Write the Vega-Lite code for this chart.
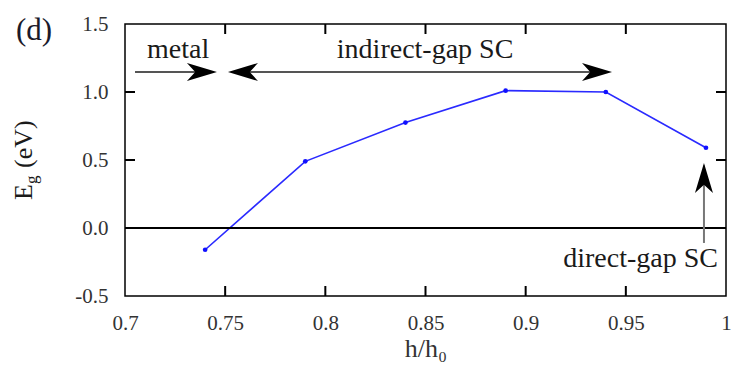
{
  "$schema": "https://vega.github.io/schema/vega-lite/v6.json",
  "width": 601,
  "height": 272,
  "autosize": "none",
  "padding": {"left": 125, "top": 24, "right": 6, "bottom": 74},
  "background": "white",
  "config": {
    "view": {"stroke": "black", "strokeWidth": 1.5},
    "font": "Liberation Serif",
    "axis": {
      "grid": false,
      "domain": false,
      "ticks": false,
      "labelFont": "Liberation Serif",
      "labelFontSize": 21,
      "labelColor": "#333333",
      "titleFont": "Liberation Serif",
      "titleFontWeight": "normal",
      "titleColor": "#333333"
    }
  },
  "datasets": {
    "gap": [
      {"h": 0.74, "Eg": -0.16},
      {"h": 0.79, "Eg": 0.49},
      {"h": 0.84, "Eg": 0.775},
      {"h": 0.89, "Eg": 1.01},
      {"h": 0.94, "Eg": 1.0},
      {"h": 0.99, "Eg": 0.59}
    ],
    "xticks": [
      {"x": 0.75, "y1": -0.5, "y2": -0.4265},
      {"x": 0.8, "y1": -0.5, "y2": -0.4265},
      {"x": 0.85, "y1": -0.5, "y2": -0.4265},
      {"x": 0.9, "y1": -0.5, "y2": -0.4265},
      {"x": 0.95, "y1": -0.5, "y2": -0.4265},
      {"x": 0.75, "y1": 1.5, "y2": 1.4265},
      {"x": 0.8, "y1": 1.5, "y2": 1.4265},
      {"x": 0.85, "y1": 1.5, "y2": 1.4265},
      {"x": 0.9, "y1": 1.5, "y2": 1.4265},
      {"x": 0.95, "y1": 1.5, "y2": 1.4265}
    ],
    "yticks": [
      {"y": 0.0, "x1": 0.7, "x2": 0.705},
      {"y": 0.5, "x1": 0.7, "x2": 0.705},
      {"y": 1.0, "x1": 0.7, "x2": 0.705},
      {"y": 0.0, "x1": 1.0, "x2": 0.995},
      {"y": 0.5, "x1": 1.0, "x2": 0.995},
      {"y": 1.0, "x1": 1.0, "x2": 0.995}
    ],
    "hshafts": [
      {"x1": 0.705, "x2": 0.742, "y": 1.147},
      {"x1": 0.755, "x2": 0.939, "y": 1.147}
    ],
    "vshafts": [
      {"x": 0.989, "y1": -0.11, "y2": 0.46}
    ],
    "headsRight": [
      {"x": 0.7459, "y": 1.147},
      {"x": 0.9431, "y": 1.147}
    ],
    "headsLeft": [
      {"x": 0.7514, "y": 1.147}
    ],
    "headsUp": [
      {"x": 0.989, "y": 0.478}
    ],
    "annotCenter": [
      {"x": 0.7265, "y": 1.25, "label": "metal"},
      {"x": 0.8498, "y": 1.25, "label": "indirect-gap SC"}
    ],
    "annotRight": [
      {"x": 0.996, "y": -0.285, "label": "direct-gap SC"}
    ],
    "panel": [
      {"x": 0.6546, "y": 1.382, "label": "(d)"}
    ],
    "ytitleMain": [
      {"x": 0.6536, "y": 0.206, "label": "E"},
      {"x": 0.6536, "y": 0.441, "label": "(eV)"}
    ],
    "ytitleSub": [
      {"x": 0.6563, "y": 0.3235, "label": "g"}
    ]
  },
  "layer": [
    {
      "data": {"name": "gap"},
      "mark": {"type": "line", "color": "#2a2aff", "strokeWidth": 1.6,
               "point": {"filled": true, "size": 22, "color": "#1010ff"}},
      "encoding": {
        "x": {"field": "h", "type": "quantitative",
              "scale": {"domain": [0.7, 1], "nice": false, "zero": false},
              "axis": {"orient": "bottom", "values": [0.7, 0.75, 0.8, 0.85, 0.9, 0.95, 1],
                       "format": "~g", "labelPadding": 16, "title": "h/h₀",
                       "titleFontSize": 26, "titlePadding": 2, "labelFlush": false}},
        "y": {"field": "Eg", "type": "quantitative",
              "scale": {"domain": [-0.5, 1.5], "nice": false, "zero": false},
              "axis": {"orient": "left", "values": [-0.5, 0, 0.5, 1, 1.5],
                       "labelExpr": "replace(format(datum.value, '.1f'), '\u2212', '-')",
                       "labelPadding": 17, "title": null, "labelFlush": false}}
      }
    },
    {
      "data": {"name": "xticks"},
      "mark": {"type": "rule", "color": "black", "strokeWidth": 2},
      "encoding": {
        "x": {"field": "x", "type": "quantitative"},
        "y": {"field": "y1", "type": "quantitative"},
        "y2": {"field": "y2"}
      }
    },
    {
      "data": {"name": "yticks"},
      "mark": {"type": "rule", "color": "black", "strokeWidth": 2},
      "encoding": {
        "x": {"field": "x1", "type": "quantitative"},
        "x2": {"field": "x2"},
        "y": {"field": "y", "type": "quantitative"}
      }
    },
    {
      "data": {"name": "gap"},
      "mark": {"type": "rule", "color": "black", "strokeWidth": 1.5},
      "encoding": {"y": {"datum": 0, "type": "quantitative"}}
    },
    {
      "data": {"name": "hshafts"},
      "mark": {"type": "rule", "color": "#555555", "strokeWidth": 2},
      "encoding": {
        "x": {"field": "x1", "type": "quantitative"},
        "x2": {"field": "x2"},
        "y": {"field": "y", "type": "quantitative"}
      }
    },
    {
      "data": {"name": "vshafts"},
      "mark": {"type": "rule", "color": "#777777", "strokeWidth": 2},
      "encoding": {
        "x": {"field": "x", "type": "quantitative"},
        "y": {"field": "y1", "type": "quantitative"},
        "y2": {"field": "y2"}
      }
    },
    {
      "data": {"name": "headsRight"},
      "mark": {"type": "point", "filled": true, "color": "black", "opacity": 1, "size": 900,
               "shape": "M0,0 L-2,-0.6 L-1.45,0 L-2,0.6 Z"},
      "encoding": {
        "x": {"field": "x", "type": "quantitative"},
        "y": {"field": "y", "type": "quantitative"}
      }
    },
    {
      "data": {"name": "headsLeft"},
      "mark": {"type": "point", "filled": true, "color": "black", "opacity": 1, "size": 900,
               "shape": "M0,0 L2,-0.6 L1.45,0 L2,0.6 Z"},
      "encoding": {
        "x": {"field": "x", "type": "quantitative"},
        "y": {"field": "y", "type": "quantitative"}
      }
    },
    {
      "data": {"name": "headsUp"},
      "mark": {"type": "point", "filled": true, "color": "black", "opacity": 1, "size": 900,
               "shape": "M0,0 L-0.6,2 L0,1.45 L0.6,2 Z"},
      "encoding": {
        "x": {"field": "x", "type": "quantitative"},
        "y": {"field": "y", "type": "quantitative"}
      }
    },
    {
      "data": {"name": "annotCenter"},
      "mark": {"type": "text", "fontSize": 28, "align": "center", "baseline": "alphabetic", "color": "#1a1a1a"},
      "encoding": {
        "x": {"field": "x", "type": "quantitative"},
        "y": {"field": "y", "type": "quantitative"},
        "text": {"field": "label"}
      }
    },
    {
      "data": {"name": "annotRight"},
      "mark": {"type": "text", "fontSize": 28, "align": "right", "baseline": "alphabetic", "color": "#1a1a1a"},
      "encoding": {
        "x": {"field": "x", "type": "quantitative"},
        "y": {"field": "y", "type": "quantitative"},
        "text": {"field": "label"}
      }
    },
    {
      "data": {"name": "panel"},
      "mark": {"type": "text", "fontSize": 31, "align": "center", "baseline": "alphabetic", "color": "#1a1a2a"},
      "encoding": {
        "x": {"field": "x", "type": "quantitative"},
        "y": {"field": "y", "type": "quantitative"},
        "text": {"field": "label"}
      }
    },
    {
      "data": {"name": "ytitleMain"},
      "mark": {"type": "text", "fontSize": 26, "angle": 270, "align": "left", "baseline": "alphabetic", "color": "#1a1a1a"},
      "encoding": {
        "x": {"field": "x", "type": "quantitative"},
        "y": {"field": "y", "type": "quantitative"},
        "text": {"field": "label"}
      }
    },
    {
      "data": {"name": "ytitleSub"},
      "mark": {"type": "text", "fontSize": 17, "angle": 270, "align": "left", "baseline": "alphabetic", "color": "#1a1a1a"},
      "encoding": {
        "x": {"field": "x", "type": "quantitative"},
        "y": {"field": "y", "type": "quantitative"},
        "text": {"field": "label"}
      }
    }
  ]
}
